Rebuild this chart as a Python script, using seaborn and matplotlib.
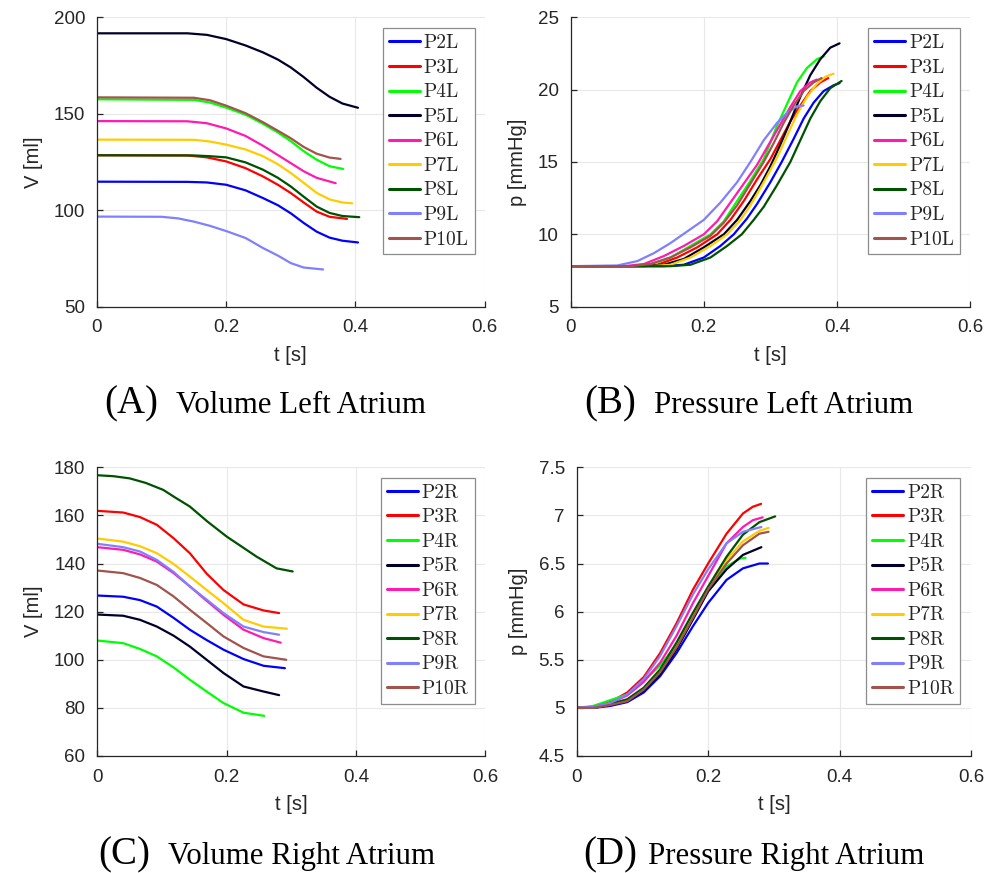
import numpy as np
import pandas as pd
import seaborn as sns
import matplotlib.pyplot as plt
from matplotlib.ticker import FuncFormatter

# Patients and colours
names_L = ['P2L', 'P3L', 'P4L', 'P5L', 'P6L', 'P7L', 'P8L', 'P9L', 'P10L']
names_R = ['P2R', 'P3R', 'P4R', 'P5R', 'P6R', 'P7R', 'P8R', 'P9R', 'P10R']
colors = ['#0000ff', '#ff0000', '#00ff00', '#00002a', '#ff1ab0',
          '#ffcc00', '#005200', '#8080ff', '#a0544c']

# (A) Volume left atrium [ml]
vol_L_t = [
    [0, 0.14, 0.17, 0.2, 0.23, 0.257, 0.28, 0.3, 0.32, 0.34, 0.36, 0.38, 0.404],
    [0, 0.14, 0.17, 0.2, 0.23, 0.257, 0.28, 0.3, 0.32, 0.34, 0.36, 0.387],
    [0, 0.15, 0.175, 0.2, 0.23, 0.257, 0.28, 0.3, 0.32, 0.34, 0.36, 0.381],
    [0, 0.14, 0.17, 0.2, 0.23, 0.257, 0.28, 0.3, 0.32, 0.34, 0.36, 0.38, 0.404],
    [0, 0.14, 0.17, 0.2, 0.23, 0.257, 0.28, 0.3, 0.32, 0.34, 0.3695],
    [0, 0.15, 0.175, 0.2, 0.23, 0.257, 0.28, 0.3, 0.32, 0.34, 0.36, 0.38, 0.395],
    [0, 0.15, 0.175, 0.2, 0.23, 0.257, 0.28, 0.3, 0.32, 0.34, 0.36, 0.38, 0.406],
    [0, 0.1, 0.125, 0.15, 0.175, 0.2, 0.23, 0.257, 0.28, 0.3, 0.32, 0.35],
    [0, 0.15, 0.175, 0.2, 0.23, 0.257, 0.28, 0.3, 0.32, 0.34, 0.36, 0.377],
]
vol_L = [
    [114.8, 114.7, 114.4, 113.2, 110.3, 106.3, 102.6, 98.4, 93.4, 88.9, 85.8, 84.2, 83.3],
    [128.5, 128.4, 127.4, 125.3, 121.8, 117.5, 113.2, 108.9, 104.0, 99.3, 96.6, 95.5],
    [157.5, 157.2, 155.8, 153.2, 149.5, 144.8, 140.3, 135.8, 130.6, 126.2, 122.8, 121.4],
    [191.7, 191.7, 190.9, 188.7, 185.4, 181.8, 178.1, 174.0, 169.0, 163.5, 158.8, 155.3, 153.1],
    [146.2, 146.1, 145.1, 142.4, 138.5, 133.4, 128.6, 124.4, 120.2, 116.8, 114.0],
    [136.6, 136.5, 135.6, 134.0, 131.5, 128.0, 123.8, 119.3, 114.2, 109.0, 105.6, 104.0, 103.6],
    [128.5, 128.4, 128.0, 127.4, 124.8, 121.0, 116.8, 112.3, 107.0, 101.9, 98.6, 97.0, 96.4],
    [96.7, 96.6, 95.8, 94.1, 91.9, 89.2, 85.6, 80.4, 76.5, 72.6, 70.3, 69.3],
    [158.5, 158.3, 157.0, 154.2, 150.3, 145.6, 141.2, 137.3, 132.8, 129.3, 127.3, 126.6],
]

# (B) Pressure left atrium [mmHg]
p_L_t = [
    [0, 0.14, 0.17, 0.2, 0.225, 0.245, 0.265, 0.28, 0.3, 0.317, 0.335, 0.35, 0.365, 0.38, 0.395, 0.404],
    [0, 0.1, 0.13, 0.16, 0.19, 0.22, 0.24, 0.26, 0.28, 0.3, 0.315, 0.33, 0.345, 0.36, 0.375, 0.387],
    [0, 0.09, 0.12, 0.15, 0.18, 0.21, 0.23, 0.25, 0.27, 0.29, 0.31, 0.325, 0.34, 0.355, 0.37, 0.38],
    [0, 0.11, 0.14, 0.17, 0.2, 0.23, 0.25, 0.27, 0.285, 0.3, 0.315, 0.33, 0.345, 0.36, 0.375, 0.39, 0.404],
    [0, 0.08, 0.11, 0.14, 0.17, 0.2, 0.22, 0.24, 0.26, 0.28, 0.3, 0.315, 0.33, 0.345, 0.36, 0.37],
    [0, 0.12, 0.15, 0.18, 0.21, 0.235, 0.255, 0.27, 0.29, 0.31, 0.325, 0.34, 0.355, 0.37, 0.383, 0.395],
    [0, 0.15, 0.18, 0.21, 0.235, 0.257, 0.275, 0.29, 0.31, 0.33, 0.345, 0.36, 0.375, 0.39, 0.407],
    [0, 0.07, 0.1, 0.125, 0.15, 0.175, 0.2, 0.225, 0.25, 0.27, 0.29, 0.31, 0.325, 0.34, 0.35],
    [0, 0.09, 0.12, 0.15, 0.18, 0.21, 0.23, 0.25, 0.27, 0.29, 0.305, 0.32, 0.335, 0.35, 0.365, 0.377],
]
p_L = [
    [7.8, 7.8, 7.9, 8.4, 9.2, 10.0, 11.1, 12.1, 13.6, 15.0, 16.6, 18.0, 19.1, 19.9, 20.3, 20.45],
    [7.8, 7.8, 7.9, 8.4, 9.1, 10.0, 11.0, 12.3, 13.8, 15.2, 16.5, 17.8, 18.9, 19.9, 20.5, 20.8],
    [7.8, 7.8, 7.95, 8.4, 9.2, 10.0, 10.9, 12.3, 13.7, 15.2, 17.5, 19.0, 20.5, 21.5, 22.1, 22.3],
    [7.8, 7.8, 7.9, 8.3, 9.1, 10.0, 11.0, 12.3, 13.4, 14.7, 16.2, 17.8, 19.5, 21.0, 22.1, 22.9, 23.2],
    [7.8, 7.8, 7.95, 8.5, 9.2, 10.0, 10.9, 12.2, 13.5, 14.8, 16.4, 17.6, 18.8, 19.9, 20.5, 20.7],
    [7.8, 7.8, 7.9, 8.4, 9.2, 10.0, 11.0, 12.0, 13.6, 15.3, 16.8, 18.3, 19.5, 20.4, 20.9, 21.1],
    [7.8, 7.8, 7.9, 8.4, 9.2, 10.0, 11.0, 11.9, 13.4, 15.0, 16.5, 18.0, 19.2, 20.1, 20.6],
    [7.8, 7.85, 8.15, 8.7, 9.4, 10.2, 11.0, 12.2, 13.6, 15.0, 16.5, 17.7, 18.4, 18.85, 18.9],
    [7.8, 7.8, 7.95, 8.4, 9.1, 9.9, 10.8, 12.0, 13.5, 15.0, 16.3, 17.7, 18.9, 19.9, 20.5, 20.8],
]

# (C) Volume right atrium [ml]
vol_R_t = [
    [0, 0.04, 0.066, 0.092, 0.118, 0.143, 0.169, 0.195, 0.226, 0.257, 0.29],
    [0, 0.04, 0.066, 0.092, 0.118, 0.143, 0.169, 0.195, 0.226, 0.257, 0.281],
    [0, 0.04, 0.066, 0.092, 0.118, 0.143, 0.169, 0.195, 0.226, 0.258],
    [0, 0.04, 0.066, 0.092, 0.118, 0.143, 0.169, 0.195, 0.226, 0.257, 0.281],
    [0, 0.04, 0.066, 0.092, 0.118, 0.143, 0.169, 0.195, 0.226, 0.257, 0.2835],
    [0, 0.04, 0.066, 0.092, 0.118, 0.143, 0.169, 0.195, 0.226, 0.257, 0.293],
    [0, 0.025, 0.05, 0.075, 0.102, 0.12, 0.143, 0.17, 0.2, 0.22, 0.246, 0.277, 0.302],
    [0, 0.04, 0.066, 0.092, 0.118, 0.143, 0.169, 0.195, 0.226, 0.257, 0.281],
    [0, 0.04, 0.066, 0.092, 0.118, 0.143, 0.169, 0.195, 0.226, 0.257, 0.292],
]
vol_R = [
    [126.7, 126.2, 124.8, 122.1, 117.4, 112.5, 108.2, 104.2, 100.3, 97.5, 96.5],
    [161.9, 161.2, 159.3, 156.1, 150.5, 144.3, 135.8, 129.0, 123.0, 120.5, 119.4],
    [108.0, 106.9, 104.5, 101.4, 96.8, 91.7, 86.8, 82.0, 78.0, 76.7],
    [118.8, 118.3, 116.6, 113.8, 110.0, 105.5, 100.0, 94.5, 88.9, 86.8, 85.3],
    [146.8, 145.7, 143.8, 140.8, 136.0, 130.5, 124.5, 118.7, 112.5, 109.0, 107.1],
    [150.4, 149.1, 147.2, 144.3, 139.8, 134.6, 129.0, 123.5, 116.6, 113.8, 112.9],
    [176.7, 176.3, 175.4, 173.5, 170.6, 167.5, 163.7, 157.5, 151.2, 147.6, 142.9, 138.0, 136.7],
    [148.2, 146.8, 145.0, 141.5, 136.5, 130.5, 125.0, 119.4, 113.8, 111.5, 110.4],
    [137.1, 136.0, 134.0, 131.1, 126.3, 120.8, 115.3, 109.7, 104.9, 101.4, 100.0],
]

# (D) Pressure right atrium [mmHg]
p_R_t = [
    [0, 0.025, 0.051, 0.077, 0.102, 0.127, 0.152, 0.177, 0.2, 0.228, 0.253, 0.278, 0.291],
    [0, 0.025, 0.051, 0.077, 0.102, 0.127, 0.152, 0.177, 0.2, 0.228, 0.253, 0.268, 0.2806],
    [0, 0.025, 0.051, 0.077, 0.102, 0.127, 0.152, 0.177, 0.2, 0.228, 0.248, 0.257],
    [0, 0.025, 0.051, 0.077, 0.102, 0.127, 0.152, 0.177, 0.2, 0.228, 0.253, 0.281],
    [0, 0.025, 0.051, 0.077, 0.102, 0.127, 0.152, 0.177, 0.2, 0.228, 0.253, 0.268, 0.283],
    [0, 0.025, 0.051, 0.077, 0.102, 0.127, 0.152, 0.177, 0.2, 0.228, 0.253, 0.278, 0.292],
    [0, 0.025, 0.051, 0.077, 0.102, 0.127, 0.152, 0.177, 0.2, 0.228, 0.253, 0.278, 0.302],
    [0, 0.025, 0.051, 0.077, 0.102, 0.127, 0.152, 0.177, 0.2, 0.228, 0.253, 0.281],
    [0, 0.025, 0.051, 0.077, 0.102, 0.127, 0.152, 0.177, 0.2, 0.228, 0.253, 0.278, 0.292],
]
p_R = [
    [5.0, 5.0, 5.02, 5.06, 5.16, 5.33, 5.57, 5.85, 6.09, 6.33, 6.45, 6.50, 6.50],
    [5.0, 5.01, 5.06, 5.16, 5.32, 5.57, 5.88, 6.23, 6.50, 6.81, 7.02, 7.09, 7.12],
    [5.0, 5.02, 5.08, 5.14, 5.28, 5.44, 5.66, 5.94, 6.23, 6.47, 6.55, 6.56],
    [5.0, 5.0, 5.03, 5.07, 5.18, 5.35, 5.61, 5.92, 6.21, 6.44, 6.59, 6.67],
    [5.0, 5.01, 5.05, 5.13, 5.27, 5.47, 5.75, 6.09, 6.37, 6.71, 6.88, 6.95, 6.98],
    [5.0, 5.0, 5.04, 5.08, 5.20, 5.39, 5.64, 5.95, 6.25, 6.54, 6.73, 6.84, 6.87],
    [5.0, 5.0, 5.04, 5.09, 5.21, 5.40, 5.68, 5.99, 6.26, 6.57, 6.80, 6.93, 6.99],
    [5.0, 5.01, 5.05, 5.14, 5.30, 5.54, 5.85, 6.18, 6.44, 6.71, 6.83, 6.88],
    [5.0, 5.0, 5.03, 5.07, 5.19, 5.37, 5.63, 5.94, 6.23, 6.50, 6.69, 6.81, 6.83],
]


def long_frame(names, times, values):
    rows = []
    for n, ts, vs in zip(names, times, values):
        for t, v in zip(ts, vs):
            rows.append((n, t, v))
    return pd.DataFrame(rows, columns=['patient', 't', 'value'])


sns.set_theme(style='ticks')
plt.rcParams['font.family'] = ['Liberation Sans', 'DejaVu Sans']
plt.rcParams['xtick.direction'] = 'in'
plt.rcParams['ytick.direction'] = 'in'

W, H = 985, 873
fig = plt.figure(figsize=(W / 100, H / 100), dpi=100)


def px_rect(left, top, right, bottom):
    return [left / W, 1 - bottom / H, (right - left) / W, (bottom - top) / H]


panels = [
    # rect, data, names, ylim, yticks, ylabel, legend corner (px)
    (px_rect(97, 17.3, 484.6, 306.7), long_frame(names_L, vol_L_t, vol_L), names_L,
     (50, 200), [50, 100, 150, 200], 'V [ml]', (474.5, 28.5)),
    (px_rect(570.7, 17.3, 970, 306.7), long_frame(names_L, p_L_t, p_L), names_L,
     (5, 25), [5, 10, 15, 20, 25], 'p [mmHg]', (960, 28.5)),
    (px_rect(97.3, 467.3, 485.5, 756), long_frame(names_R, vol_R_t, vol_R), names_R,
     (60, 180), [60, 80, 100, 120, 140, 160, 180], 'V [ml]', (474.5, 478)),
    (px_rect(576.7, 467.3, 971, 756), long_frame(names_R, p_R_t, p_R), names_R,
     (4.5, 7.5), [4.5, 5, 5.5, 6, 6.5, 7, 7.5], 'p [mmHg]', (960, 478)),
]

fmt = FuncFormatter(lambda v, pos: '%g' % v)

for rect, df, names, ylim, yticks, ylabel, leg_xy in panels:
    ax = fig.add_axes(rect)
    sns.lineplot(data=df, x='t', y='value', hue='patient', hue_order=names,
                 palette=dict(zip(names, colors)), estimator=None, sort=False,
                 linewidth=1.6, ax=ax)
    ax.set_xlim(0, 0.6)
    ax.set_ylim(*ylim)
    ax.set_xticks([0, 0.2, 0.4, 0.6])
    ax.set_yticks(yticks)
    ax.xaxis.set_major_formatter(fmt)
    ax.yaxis.set_major_formatter(fmt)
    ax.grid(True, color='#e8e8e8', linewidth=0.8)
    ax.set_axisbelow(True)
    sns.despine(ax=ax)
    for s in ['left', 'bottom']:
        ax.spines[s].set_color('#262626')
        ax.spines[s].set_linewidth(0.9)
    ax.tick_params(length=4, width=0.9, color='#262626', labelcolor='#262626',
                   labelsize=13.5)
    ax.tick_params(axis='x', pad=9)
    ax.tick_params(axis='y', pad=8.5)
    ax.set_xlabel('t [s]', fontsize=14.5, color='#262626', labelpad=7)
    ax.set_ylabel(ylabel, fontsize=14.5, color='#262626', labelpad=8)

    handles, labels = ax.get_legend_handles_labels()
    leg = ax.legend(handles, labels, loc='upper right',
                    bbox_to_anchor=(leg_xy[0] / W, 1 - leg_xy[1] / H),
                    bbox_transform=fig.transFigure, borderaxespad=0,
                    prop={'family': 'cmr10', 'size': 14}, frameon=True,
                    fancybox=False, edgecolor='#8c8c8c', framealpha=1,
                    handlelength=1.6, handletextpad=0.2, labelspacing=0.34,
                    borderpad=0.3)
    leg.get_frame().set_linewidth(0.9)
    for line in leg.get_lines():
        line.set_linewidth(2.2)

# sub-figure captions
captions = [
    (104, 413, '(A)', 176, 'Volume Left Atrium'),
    (584, 413, '(B)', 654, 'Pressure Left Atrium'),
    (98, 864, '(C)', 168, 'Volume Right Atrium'),
    (583, 864, '(D)', 648, 'Pressure Right Atrium'),
]
for x0, yb, tag, x1, text in captions:
    fig.text(x0 / W, 1 - yb / H, tag, fontsize=28, family='Liberation Serif',
             va='baseline', ha='left', color='black')
    fig.text(x1 / W, 1 - yb / H, text, fontsize=22.2, family='Liberation Serif',
             va='baseline', ha='left', color='black')

fig.savefig('out.png', dpi=100)
